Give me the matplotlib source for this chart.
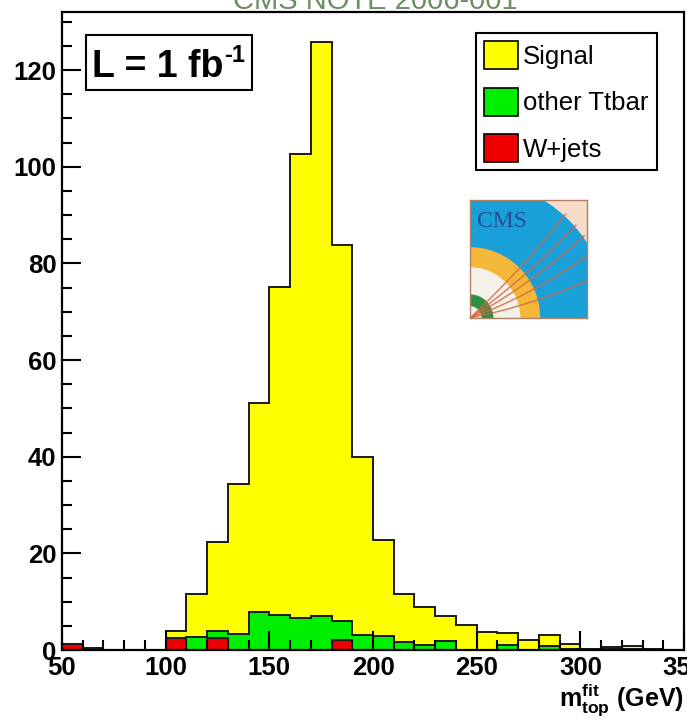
import numpy as np
import matplotlib
matplotlib.use("Agg")
import matplotlib.pyplot as plt
from matplotlib.patches import Patch, Rectangle, Circle, Wedge

# ---------------- data ----------------
bin_edges = np.arange(50, 351, 10)   # 30 bins of 10 GeV
signal = [0, 0, 0, 0, 0, 1.5, 9.0, 18.5, 31.0, 43.2, 68.0, 96.0, 118.7, 77.8, 36.8,
          19.9, 9.9, 7.8, 5.2, 5.2, 3.8, 2.5, 2.1, 2.3, 0.9, 0.0, 0.4, 0.6, 0.0, 0.0]
other_ttbar = [0, 0, 0, 0, 0, 0, 2.6, 1.5, 3.4, 7.9, 7.2, 6.7, 7.1, 3.9, 3.2,
               2.8, 1.7, 1.0, 1.9, 0.0, 0.0, 1.0, 0.0, 0.8, 0.3, 0.3, 0.2, 0.2, 0.3, 0.0]
wjets = [1.2, 0.4, 0, 0, 0, 2.4, 0, 2.4, 0, 0, 0, 0, 0, 2.1, 0,
         0, 0, 0, 0, 0, 0, 0, 0, 0, 0, 0, 0, 0, 0, 0]
legend_labels = ["Signal", "other Ttbar", "W+jets"]
x_ticks = [50, 100, 150, 200, 250, 300, 350]
y_ticks = [0, 20, 40, 60, 80, 100, 120]

# ---------------- style ----------------
plt.rcParams["font.family"] = ["Liberation Sans", "DejaVu Sans"]
plt.rcParams["mathtext.fontset"] = "custom"
plt.rcParams["mathtext.rm"] = "Liberation Sans"
plt.rcParams["mathtext.bf"] = "Liberation Sans:bold"
plt.rcParams["mathtext.it"] = "Liberation Sans:italic"

W, H = 687, 719
fig = plt.figure(figsize=(W / 100, H / 100), dpi=100)
ax = fig.add_axes([62 / W, 69 / H, 622 / W, 638 / H])

c_sig, c_oth, c_wj = "#ffff00", "#00ee00", "#ee0000"
edge = "#1a1a1a"

w = np.array(wjets, float)
o = w + np.array(other_ttbar, float)
t = o + np.array(signal, float)

ax.stairs(t, bin_edges, fill=True, facecolor=c_sig, edgecolor=edge, linewidth=1.4)
ax.stairs(o, bin_edges, fill=True, facecolor=c_oth, edgecolor=edge, linewidth=1.4)
ax.stairs(w, bin_edges, fill=True, facecolor=c_wj, edgecolor=edge, linewidth=1.4)

ax.set_xlim(50, 350)
ax.set_ylim(0, 132)
ax.set_xticks(x_ticks)
ax.set_yticks(y_ticks)
ax.set_xticks(np.arange(50, 351, 10), minor=True)
ax.set_yticks(np.arange(0, 131, 5), minor=True)
ax.tick_params(which="both", direction="in", top=False, right=False, width=1.5,
               labelsize=18.5, pad=4, colors="black")
ax.tick_params(which="major", length=14)
ax.tick_params(which="minor", length=7)
for lab in ax.get_xticklabels() + ax.get_yticklabels():
    lab.set_fontweight("bold")
for s in ax.spines.values():
    s.set_linewidth(1.6)

# legend
handles = [Patch(facecolor=c, edgecolor="black", linewidth=1.2) for c in (c_sig, c_oth, c_wj)]
leg = ax.legend(handles, legend_labels, loc="upper left",
                bbox_to_anchor=(476 / W, 1 - 33 / H), bbox_transform=fig.transFigure,
                fontsize=18.5, handlelength=1.3, handleheight=1.3, handletextpad=0.22,
                labelspacing=0.72, borderpad=0.32, borderaxespad=0, fancybox=False,
                framealpha=1, edgecolor="black")
leg.get_frame().set_linewidth(1.5)

# luminosity box
fig.add_artist(Rectangle((86 / W, 1 - 90 / H), 166 / W, 55 / H, transform=fig.transFigure,
                         facecolor="white", edgecolor="black", linewidth=1.5, zorder=5))
t1 = fig.text(92 / W, 1 - 77 / H, "L = 1 fb", ha="left", va="baseline",
              fontsize=27, fontweight="bold", zorder=6)
renderer = fig.canvas.get_renderer()
bb = t1.get_window_extent(renderer)
fig.text(bb.x1 / W + 1 / W, 1 - 62 / H, "-1", ha="left", va="baseline",
         fontsize=17, fontweight="bold", zorder=6)

# x label
fig.text(684 / W, 1 - 700 / H, r"$\mathbf{m}^{\mathbf{fit}}_{\mathbf{top}}$ (GeV)",
         ha="right", va="center", fontsize=18, fontweight="bold")

# clipped title at top
fig.text(375 / W, 1 - 9 / H, "CMS NOTE 2006-001", ha="center", va="baseline",
         fontsize=21, color="#6b8e62")

# CMS logo (decorative approximation)
lax = fig.add_axes([470 / W, 1 - 318 / H, 117 / W, 118 / H])
lax.set_xlim(0, 1)
lax.set_ylim(0, 1)
lax.set_xticks([])
lax.set_yticks([])
for s in lax.spines.values():
    s.set_edgecolor("#b08060")
    s.set_linewidth(1.0)
lax.add_patch(Rectangle((0, 0), 1, 1, facecolor="#f7dccb", edgecolor="none"))
lax.add_patch(Circle((0.02, 0.0), 1.17, facecolor="#1aa0d8", edgecolor="none"))
lax.add_patch(Circle((0.0, 0.0), 0.6, facecolor="#f4b73a", edgecolor="none"))
lax.add_patch(Circle((0.0, 0.0), 0.43, facecolor="#f4f0ea", edgecolor="none"))
lax.add_patch(Wedge((0.0, 0.0), 0.2, 0, 90, width=0.1, facecolor="#2f8f46", edgecolor="none"))
tt = np.linspace(0.0, 1.2, 60)
for a0, c in [(0.35, 0.12), (0.5, 0.1), (0.62, 0.08), (0.75, 0.06), (0.2, 0.1)]:
    ang = a0 + c * tt
    lax.plot(tt * np.cos(ang), tt * np.sin(ang), color="#d8643c", lw=1.0, alpha=0.85)
lax.text(0.06, 0.82, "CMS", fontsize=17, family=["Liberation Serif", "DejaVu Serif"],
         color="#24508f", va="center", ha="left")

fig.savefig("out.png", dpi=100)
